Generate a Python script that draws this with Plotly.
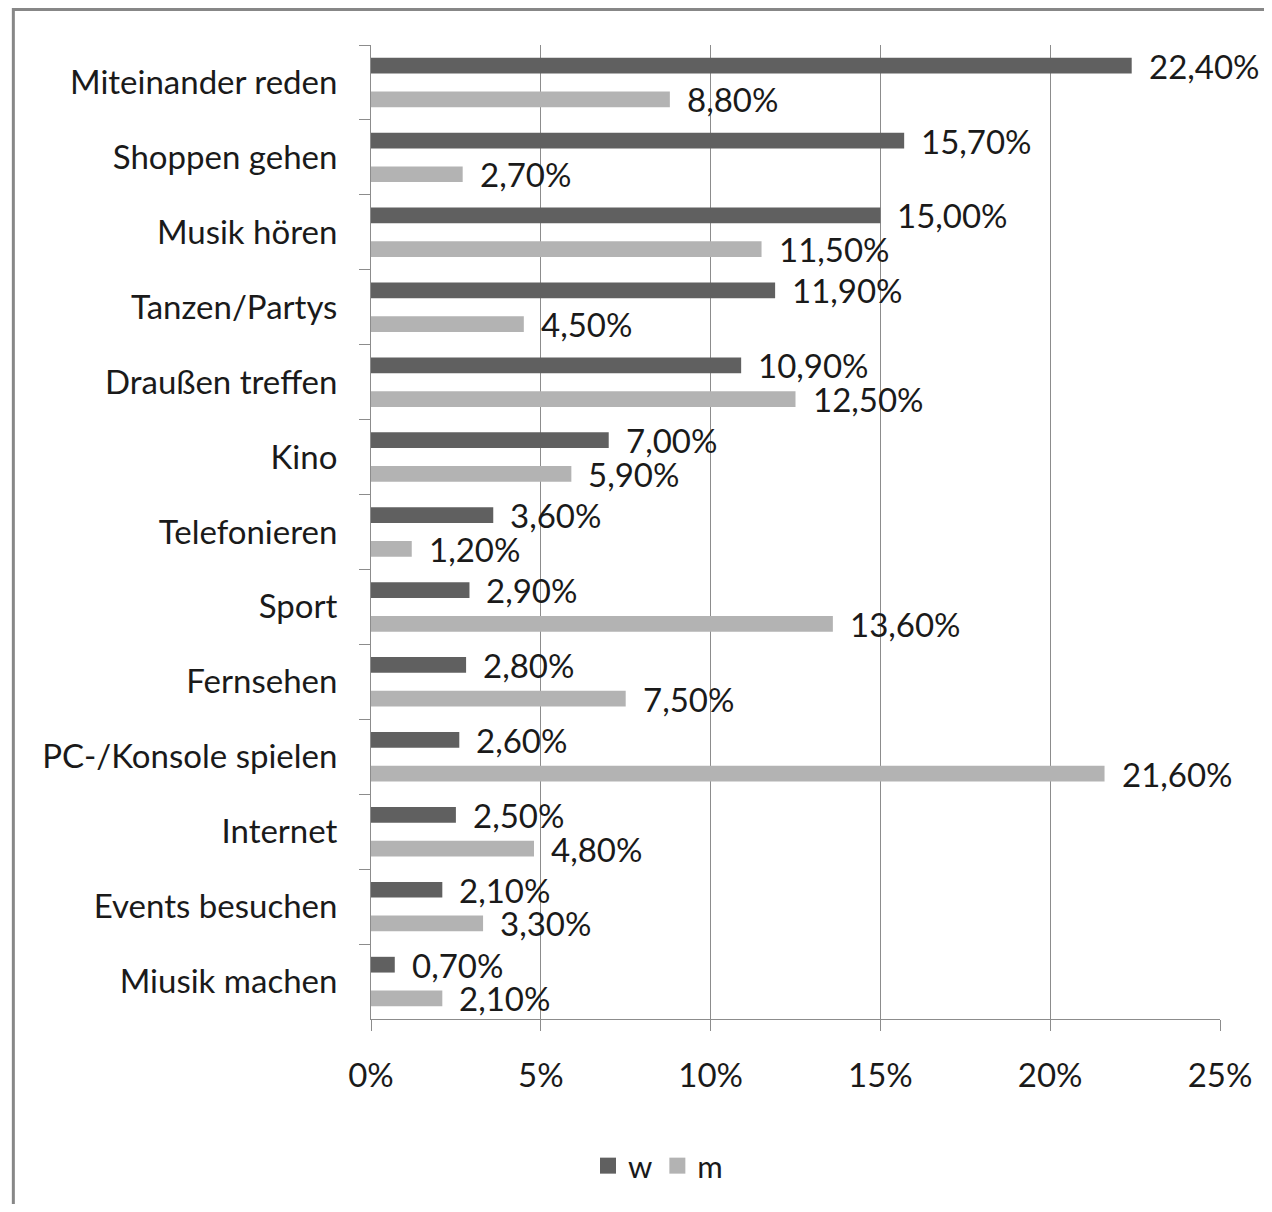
import plotly.graph_objects as go

categories = ["Miteinander reden", "Shoppen gehen", "Musik hören", "Tanzen/Partys",
              "Draußen treffen", "Kino", "Telefonieren", "Sport", "Fernsehen",
              "PC-/Konsole spielen", "Internet", "Events besuchen", "Miusik machen"]
w_values = [22.4, 15.7, 15.0, 11.9, 10.9, 7.0, 3.6, 2.9, 2.8, 2.6, 2.5, 2.1, 0.7]
m_values = [8.8, 2.7, 11.5, 4.5, 12.5, 5.9, 1.2, 13.6, 7.5, 21.6, 4.8, 3.3, 2.1]
x_ticks = [0, 5, 10, 15, 20, 25]
x_tick_labels = ["0%", "5%", "10%", "15%", "20%", "25%"]

DARK = "#606060"
LIGHT = "#b3b3b3"
GRID = "#8c8c8c"
TXT = "#1a1a1a"
FONT = "Lato"
FS = 33

BW = 0.21
W_OFF = -0.225
M_OFF = 0.225

# figure is placed at (8, 8) in the page (default body margin)
FIG_W, FIG_H = 1256, 1196
L, R, T, B = 363, 42, 37, 185
PW = FIG_W - L - R
PH = FIG_H - T - B

fig = go.Figure()
fig.add_trace(go.Bar(y=categories, x=w_values, orientation="h", name="w",
                     marker=dict(color=DARK, line=dict(width=0)),
                     width=BW, offset=W_OFF - BW / 2, showlegend=False))
fig.add_trace(go.Bar(y=categories, x=m_values, orientation="h", name="m",
                     marker=dict(color=LIGHT, line=dict(width=0)),
                     width=BW, offset=M_OFF - BW / 2, showlegend=False))
# legend entries
fig.add_trace(go.Scatter(x=[None], y=[None], mode="markers", name="w",
                         marker=dict(symbol="square", size=16, color=DARK)))
fig.add_trace(go.Scatter(x=[None], y=[None], mode="markers", name="m",
                         marker=dict(symbol="square", size=16, color=LIGHT)))

annotations = []
for i, (wv, mv) in enumerate(zip(w_values, m_values)):
    for val, off in ((wv, W_OFF), (mv, M_OFF)):
        annotations.append(dict(
            x=val, y=i + off, xref="x", yref="y",
            text=f"{val:.2f}%".replace(".", ","),
            showarrow=False, xanchor="left", yanchor="middle", xshift=15,
            font=dict(family=FONT, size=FS, color=TXT)))

fig.update_layout(
    width=FIG_W, height=FIG_H,
    margin=dict(l=L, r=R, t=T, b=B),
    paper_bgcolor="white", plot_bgcolor="white",
    font=dict(family=FONT, size=FS, color=TXT),
    separators=",.",
    barmode="overlay",
    annotations=annotations,
    legend=dict(orientation="h", xref="container", yref="container",
                x=(658 - 8) / FIG_W, y=1 - (1166 - 8) / FIG_H,
                xanchor="center", yanchor="middle",
                font=dict(family=FONT, size=31, color=TXT),
                itemwidth=30, tracegroupgap=0),
    shapes=[dict(type="rect", xref="paper", yref="paper",
                 x0=(4.5 - L) / PW, x1=1.3,
                 y0=-0.3, y1=(T + PH - 1.5) / PH,
                 line=dict(color="#878787", width=3), layer="below")],
)
fig.update_xaxes(range=[0, 25], tickvals=x_ticks, ticktext=x_tick_labels,
                 showgrid=True, gridcolor=GRID, gridwidth=1,
                 showline=True, linecolor=GRID, linewidth=1,
                 ticks="outside", ticklen=11, tickcolor=GRID,
                 zeroline=False, ticklabelstandoff=16,
                 tickfont=dict(family=FONT, size=FS, color=TXT))
fig.update_yaxes(type="category", categoryorder="array", categoryarray=categories,
                 range=[len(categories) - 0.5, -0.5],
                 showgrid=False, showline=True, linecolor=GRID, linewidth=1,
                 ticks="outside", ticklen=11, tickcolor=GRID, tickson="boundaries",
                 ticklabelstandoff=26,
                 tickfont=dict(family=FONT, size=FS, color=TXT))

fig.write_html("out.html")
